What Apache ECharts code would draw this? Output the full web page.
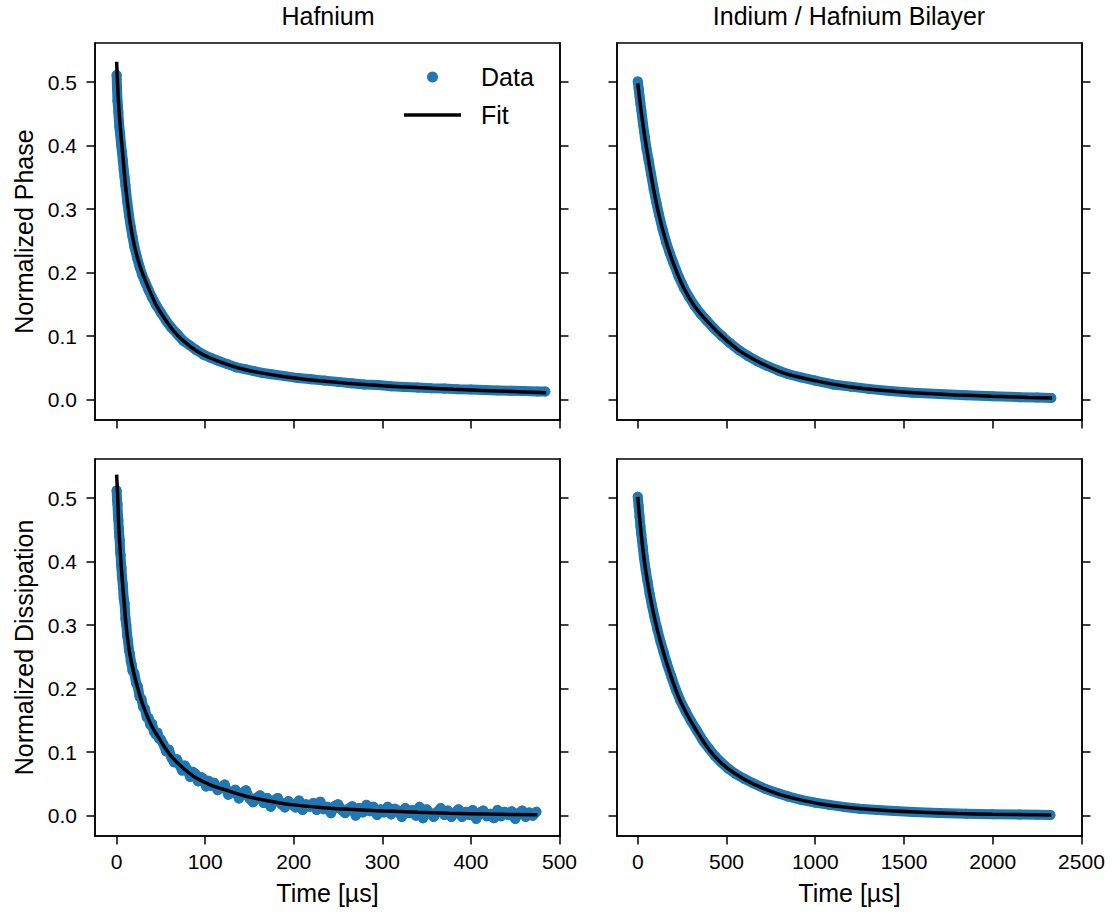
<!DOCTYPE html>
<html>
<head>
<meta charset="utf-8">
<script src="https://cdn.jsdelivr.net/npm/echarts@6/dist/echarts.min.js"></script>
<style>
  html, body { margin: 0; padding: 0; background: #fff; }
  #chart { width: 1112px; height: 915px; }
</style>
</head>
<body>
<div id="chart"></div>
<script>
// tick labels
const hfTimeTicks = [0, 100, 200, 300, 400, 500]
const bilayerTimeTicks = [0, 500, 1000, 1500, 2000, 2500]
const valueTicks = [0, 0.1, 0.2, 0.3, 0.4, 0.5]

// Hafnium - normalized phase [time us, value]
const hfPhaseData = [[0,0.511],[0.5,0.49],[1,0.47],[1.5,0.462],[2,0.452],[3,0.43],[4,0.418],[5,0.402],[6,0.39],[7,0.377],[8,0.362],[9,0.35],[10,0.337],[12,0.312],[14,0.29],[16,0.272],[18,0.256],[20,0.241],[23,0.224],[26,0.209],[29,0.196],[32,0.186],[36,0.173],[40,0.161],[45,0.148],[50,0.137],[56,0.124],[62,0.113],[68,0.104],[75,0.093],[82,0.086],[90,0.078],[98,0.071],[106,0.066],[115,0.061],[125,0.056],[135,0.051],[145,0.048],[155,0.045],[165,0.042],[175,0.04],[190,0.037],[205,0.034],[220,0.032],[235,0.03],[250,0.028],[265,0.026],[280,0.024],[295,0.023],[310,0.021],[325,0.02],[340,0.019],[355,0.018],[370,0.0175],[385,0.0165],[400,0.016],[415,0.0152],[430,0.0145],[445,0.014],[460,0.0135],[475,0.013],[484,0.0128]]
const hfPhaseFit = [[0,0.532],[1,0.5],[2,0.472],[3,0.45],[4,0.432],[5,0.415],[7,0.385],[10,0.338],[13,0.302],[16,0.272],[20,0.243],[25,0.216],[30,0.196],[36,0.176],[45,0.148],[56,0.124],[65,0.107],[75,0.093],[90,0.077],[105,0.066],[120,0.058],[140,0.049],[160,0.043],[190,0.036],[220,0.031],[260,0.026],[300,0.022],[340,0.019],[380,0.0165],[420,0.0142],[460,0.0122],[485,0.0108]]

// Hafnium - normalized dissipation
const hfDissData = [[0,0.512],[0.5,0.497],[1,0.49],[1.5,0.472],[2,0.465],[2.5,0.452],[3,0.44],[3.5,0.434],[4,0.415],[4.5,0.41],[5,0.396],[5.5,0.39],[6,0.376],[7,0.364],[8,0.342],[9,0.334],[10,0.31],[11,0.3],[12,0.283],[13,0.274],[14,0.26],[15,0.255],[16,0.243],[17,0.238],[18,0.228],[20,0.224],[22,0.209],[24,0.203],[26,0.187],[28,0.184],[30,0.171],[32,0.168],[34,0.155],[36,0.154],[38,0.143],[40,0.145],[42,0.133],[44,0.128],[46,0.131],[48,0.121],[50,0.12],[53,0.112],[56,0.101],[59,0.104],[62,0.091],[65,0.084],[68,0.089],[71,0.08],[74,0.071],[77,0.079],[80,0.072],[83,0.061],[86,0.069],[89,0.066],[92,0.054],[95,0.061],[98,0.058],[101,0.046],[104,0.055],[107,0.047],[110,0.052],[114,0.04],[118,0.044],[122,0.049],[126,0.033],[130,0.036],[134,0.041],[138,0.027],[142,0.036],[146,0.04],[150,0.027],[154,0.021],[158,0.028],[162,0.032],[166,0.02],[170,0.028],[174,0.014],[178,0.024],[182,0.028],[186,0.018],[190,0.013],[194,0.023],[198,0.018],[202,0.013],[206,0.024],[210,0.009],[214,0.018],[218,0.014],[222,0.02],[226,0.009],[230,0.022],[234,0.01],[238,0.014],[242,0.004],[246,0.015],[250,0.018],[254,0.009],[258,0.004],[262,0.011],[266,0.015],[270,0],[274,0.012],[278,0.005],[282,0.017],[286,0.007],[290,0.014],[294,0.001],[298,0.01],[302,0.005],[306,0.014],[310,0.002],[314,0.011],[318,0.008],[322,-0.002],[326,0.012],[330,0.004],[334,0.009],[338,0],[342,0.014],[346,-0.004],[350,0.01],[354,0.004],[358,-0.002],[362,0.006],[366,0.012],[370,0.001],[374,0.008],[378,-0.002],[382,0.005],[386,0.01],[390,-0.002],[394,0.006],[398,0.001],[402,0.009],[406,-0.005],[410,0.005],[414,0.008],[418,-0.001],[422,0.003],[426,-0.004],[430,0.009],[434,-0.001],[438,0.006],[442,0.001],[446,0.007],[450,-0.005],[454,0.004],[458,0.008],[462,-0.002],[466,0.005],[470,0],[474,0.006]]
const hfDissFit = [[0,0.537],[1,0.51],[2,0.47],[3,0.44],[4,0.418],[5.6,0.386],[7,0.36],[8.6,0.334],[10,0.31],[12,0.283],[15,0.254],[19,0.227],[24,0.2],[29,0.177],[36,0.152],[42,0.135],[47,0.124],[55,0.106],[62,0.093],[75,0.075],[88,0.061],[105,0.049],[124,0.04],[145,0.031],[169,0.024],[200,0.017],[230,0.013],[263,0.01],[300,0.0075],[340,0.0055],[375,0.004],[420,0.0025],[475,0.0015]]

// Indium / Hafnium bilayer - normalized phase
const bilayerPhaseData = [[0,0.501],[5,0.49],[10,0.478],[15,0.466],[20,0.456],[30,0.433],[40,0.413],[50,0.394],[60,0.379],[75,0.355],[90,0.331],[105,0.31],[120,0.291],[140,0.268],[160,0.248],[180,0.231],[200,0.216],[230,0.194],[260,0.176],[290,0.161],[320,0.148],[355,0.135],[390,0.124],[430,0.112],[475,0.1],[520,0.089],[570,0.078],[620,0.069],[670,0.061],[730,0.053],[790,0.046],[850,0.04],[920,0.035],[1000,0.03],[1100,0.024],[1200,0.0205],[1300,0.017],[1420,0.0138],[1550,0.011],[1700,0.009],[1850,0.007],[2000,0.0055],[2150,0.004],[2250,0.0033],[2330,0.0028]]
const bilayerPhaseFit = [[0,0.498],[10,0.474],[20,0.452],[30,0.432],[41,0.411],[60,0.378],[88,0.333],[120,0.29],[154,0.254],[200,0.215],[257,0.177],[320,0.147],[389,0.124],[474,0.1],[568,0.078],[650,0.064],[728,0.053],[812,0.043],[900,0.036],[1030,0.028],[1200,0.02],[1425,0.0135],[1600,0.01],[1800,0.0075],[1990,0.0055],[2200,0.0035],[2335,0.0025]]

// Indium / Hafnium bilayer - normalized dissipation
const bilayerDissData = [[0,0.502],[5,0.487],[10,0.471],[15,0.456],[20,0.443],[28,0.423],[35,0.406],[45,0.386],[55,0.369],[67,0.349],[80,0.331],[95,0.311],[110,0.294],[128,0.274],[145,0.258],[165,0.239],[190,0.218],[215,0.198],[240,0.181],[270,0.164],[300,0.149],[335,0.133],[370,0.117],[400,0.106],[435,0.094],[470,0.084],[510,0.074],[550,0.066],[600,0.058],[650,0.051],[720,0.042],[794,0.035],[850,0.03],[920,0.025],[1000,0.0205],[1080,0.017],[1160,0.0138],[1250,0.011],[1350,0.009],[1450,0.0072],[1550,0.0058],[1700,0.0043],[1850,0.0032],[2000,0.0024],[2150,0.0017],[2250,0.0014],[2325,0.0012]]
const bilayerDissFit = [[0,0.502],[10,0.47],[20,0.442],[35,0.405],[55,0.368],[80,0.33],[110,0.293],[145,0.257],[190,0.217],[239,0.181],[300,0.148],[399,0.105],[470,0.083],[549,0.066],[650,0.05],[794,0.034],[900,0.026],[1038,0.018],[1200,0.0125],[1400,0.008],[1600,0.0052],[1800,0.0034],[2000,0.0023],[2200,0.0015],[2330,0.0011]]

const FONT = 'Liberation Sans, Arial, Helvetica, sans-serif'
const BLUE = '#1f77b4'

// one entry per subplot
const panels = [
  { left: 95, top: 43, xMin: -24.4, xMax: 500.6, ticks: hfTimeTicks, data: hfPhaseData, fit: hfPhaseFit, xLabels: false, yName: 'Normalized Phase' },
  { left: 95, top: 459, xMin: -24.4, xMax: 500.6, ticks: hfTimeTicks, data: hfDissData, fit: hfDissFit, xLabels: true, yName: 'Normalized Dissipation' },
  { left: 617, top: 43, xMin: -117, xMax: 2503, ticks: bilayerTimeTicks, data: bilayerPhaseData, fit: bilayerPhaseFit, xLabels: false, yName: '' },
  { left: 617, top: 459, xMin: -117, xMax: 2503, ticks: bilayerTimeTicks, data: bilayerDissData, fit: bilayerDissFit, xLabels: true, yName: '' }
]

const axisLine = { show: true, onZero: false, lineStyle: { color: '#000', width: 1.5 } }
const tickStyle = { color: '#000', width: 1.5 }

const grid = []
const xAxis = []
const yAxis = []
const series = []

panels.forEach((p, i) => {
  grid.push({
    left: p.left, top: p.top, width: 465, height: 377,
    show: true, borderColor: '#000', borderWidth: 1.5
  })
  xAxis.push({
    gridIndex: i, type: 'value', min: p.xMin, max: p.xMax,
    axisLine,
    axisTick: { show: true, length: 8.5, lineStyle: tickStyle, customValues: p.ticks },
    axisLabel: {
      show: p.xLabels, customValues: p.ticks, fontSize: 21, color: '#000', fontFamily: FONT, margin: 15,
      formatter: v => String(v)
    },
    splitLine: { show: false },
    name: p.xLabels ? 'Time [µs]' : '',
    nameLocation: 'middle', nameGap: 44,
    nameTextStyle: { fontSize: 25, color: '#000', fontFamily: FONT }
  })
  // left axis, labels only on the first column
  yAxis.push({
    gridIndex: i, type: 'value', min: -0.032, max: 0.5615, position: 'left',
    axisLine,
    axisTick: { show: true, length: 8.5, lineStyle: tickStyle, customValues: valueTicks },
    axisLabel: {
      show: !!p.yName, customValues: valueTicks, fontSize: 21, color: '#000', fontFamily: FONT, margin: 18,
      formatter: v => v.toFixed(1)
    },
    splitLine: { show: false },
    name: p.yName, nameLocation: 'middle', nameGap: 59,
    nameTextStyle: { fontSize: 25, color: '#000', fontFamily: FONT }
  })
  // mirrored ticks on the right edge
  yAxis.push({
    gridIndex: i, type: 'value', min: -0.032, max: 0.5615, position: 'right',
    axisLine,
    axisTick: { show: true, length: 8.5, lineStyle: tickStyle, customValues: valueTicks },
    axisLabel: { show: false },
    splitLine: { show: false }
  })
  series.push({
    name: 'Data', type: 'line', xAxisIndex: i, yAxisIndex: 2 * i,
    data: p.data,
    symbol: 'circle', symbolSize: 10, showSymbol: true,
    itemStyle: { color: BLUE, borderWidth: 0 },
    lineStyle: { color: BLUE, width: 10, cap: 'round', join: 'round' },
    z: 2, silent: true
  })
  series.push({
    name: 'Fit', type: 'line', xAxisIndex: i, yAxisIndex: 2 * i,
    data: p.fit,
    symbol: 'none', smooth: 0.3,
    itemStyle: { color: '#000' },
    lineStyle: { color: '#000', width: 3.5 },
    z: 3, silent: true
  })
})

const chart = echarts.init(document.getElementById('chart'), null, { renderer: 'svg' })
chart.setOption({
  animation: false,
  backgroundColor: '#fff',
  title: [
    { text: 'Hafnium', left: 328, top: 3, textAlign: 'center', padding: 0,
      textStyle: { fontSize: 25, fontWeight: 'normal', color: '#000', fontFamily: FONT } },
    { text: 'Indium / Hafnium Bilayer', left: 849, top: 3, textAlign: 'center', padding: 0,
      textStyle: { fontSize: 25, fontWeight: 'normal', color: '#000', fontFamily: FONT } }
  ],
  legend: {
    data: [
      { name: 'Data', icon: 'circle' },
      { name: 'Fit', icon: 'path://M0,0 L57,0 L57,3.5 L0,3.5 Z', itemStyle: { color: '#000' } }
    ],
    orient: 'vertical', left: 404, top: 64, padding: 0,
    itemWidth: 57, itemHeight: 11, itemGap: 12,
    selectedMode: false,
    textStyle: { fontSize: 25, color: '#000', fontFamily: FONT, lineHeight: 26, padding: [0, 0, 0, 15] }
  },
  grid,
  xAxis,
  yAxis,
  series
})
</script>
</body>
</html>
